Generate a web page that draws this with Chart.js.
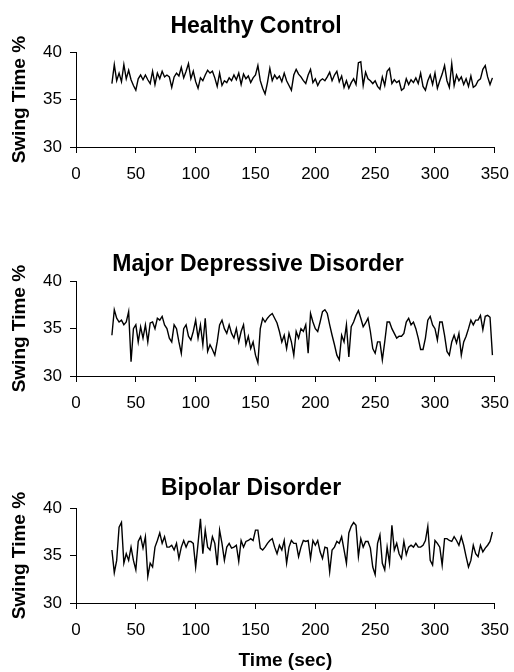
<!DOCTYPE html>
<html>
<head>
<meta charset="utf-8">
<script src="https://cdn.jsdelivr.net/npm/chart.js@4.4.1/dist/chart.umd.min.js"></script>
<style>
  html, body { margin: 0; padding: 0; background: #fff; }
  #page { position: relative; width: 514px; height: 672px; }
  canvas { position: absolute; left: 0; }
</style>
</head>
<body>
<div id="page">
  <canvas id="c-healthy" width="514" height="190" style="top:0px"></canvas>
  <canvas id="c-mdd" width="514" height="190" style="top:229px"></canvas>
  <canvas id="c-bipolar" width="514" height="216" style="top:456px"></canvas>
</div>
<script>
// time axis (sec), one sample every 2 s
const timeSec = [
  30, 32, 34, 36, 38, 40, 42, 44, 46, 48, 50, 52, 54, 56, 58, 60, 62, 64, 66, 68,
  70, 72, 74, 76, 78, 80, 82, 84, 86, 88, 90, 92, 94, 96, 98, 100, 102, 104, 106, 108,
  110, 112, 114, 116, 118, 120, 122, 124, 126, 128, 130, 132, 134, 136, 138, 140, 142, 144, 146, 148,
  150, 152, 154, 156, 158, 160, 162, 164, 166, 168, 170, 172, 174, 176, 178, 180, 182, 184, 186, 188,
  190, 192, 194, 196, 198, 200, 202, 204, 206, 208, 210, 212, 214, 216, 218, 220, 222, 224, 226, 228,
  230, 232, 234, 236, 238, 240, 242, 244, 246, 248, 250, 252, 254, 256, 258, 260, 262, 264, 266, 268,
  270, 272, 274, 276, 278, 280, 282, 284, 286, 288, 290, 292, 294, 296, 298, 300, 302, 304, 306, 308,
  310, 312, 314, 316, 318, 320, 322, 324, 326, 328, 330, 332, 334, 336, 338, 340, 342, 344, 346, 348
];

// swing time % per group
const healthy = [
  36.7, 38.7, 37.0, 37.8, 36.9, 38.7, 37.2, 38.1, 37.1, 36.5,
  36.0, 37.2, 37.6, 37.1, 37.6, 37.1, 36.7, 38.0, 36.6, 37.8,
  37.2, 38.0, 37.4, 37.6, 37.4, 36.3, 37.4, 37.8, 37.5, 38.4,
  37.3, 38.0, 38.8, 37.2, 38.0, 36.9, 36.2, 37.3, 37.0, 37.6,
  38.1, 37.8, 38.0, 37.3, 36.4, 37.8, 36.5, 37.0, 36.8, 37.3,
  37.0, 37.6, 37.1, 37.8, 36.6, 37.7, 37.2, 37.5, 36.8, 37.3,
  37.6, 38.6, 37.0, 36.2, 35.6, 36.8, 38.3, 37.0, 37.6, 37.2,
  37.5, 36.9, 37.8, 37.0, 36.5, 36.0, 37.6, 38.2, 37.7, 37.4,
  37.0, 36.7, 37.6, 38.2, 36.8, 37.2, 36.5, 37.0, 37.2, 37.0,
  37.4, 37.9, 37.0, 37.6, 38.0, 36.9, 37.5, 36.3, 37.0, 36.2,
  36.8, 37.2, 36.6, 38.9, 39.0, 36.5, 37.9, 37.2, 37.0, 36.7,
  37.0, 36.4, 36.1, 37.4, 36.5, 38.0, 38.3, 36.7, 37.1, 36.8,
  37.0, 36.0, 36.2, 37.2, 36.6, 37.1, 36.8, 37.3, 36.7, 37.8,
  36.4, 36.0, 37.0, 37.6, 36.6, 37.8, 36.2, 37.0, 37.7, 38.6,
  37.0, 36.3, 38.8, 36.5, 37.6, 37.0, 37.4, 36.6, 37.2, 36.4,
  37.5, 36.3, 36.5, 37.0, 37.2, 38.2, 38.6, 37.4, 36.6, 37.3
];

const mdd = [
  34.3, 37.0, 36.1, 35.7, 35.9, 35.4, 35.7, 36.8, 31.5, 35.0,
  35.4, 33.6, 35.2, 34.0, 35.4, 33.6, 35.6, 35.7, 35.0, 36.1,
  35.9, 36.3, 35.4, 35.0, 34.0, 33.6, 35.4, 35.0, 33.6, 32.4,
  35.0, 35.4, 34.2, 33.8, 34.7, 35.9, 34.0, 35.4, 33.3, 36.1,
  32.6, 33.3, 32.8, 32.2, 33.6, 35.4, 35.9, 35.0, 34.5, 35.4,
  34.5, 34.0, 35.0, 33.6, 34.7, 35.4, 33.3, 34.2, 32.9, 33.6,
  32.2, 31.4, 35.0, 36.1, 35.7, 36.1, 36.4, 36.6, 36.1, 35.6,
  34.7, 33.6, 34.3, 32.9, 34.5, 33.6, 32.2, 34.7, 34.0, 35.0,
  34.7, 35.4, 32.4, 36.6, 35.7, 35.0, 34.7, 35.7, 36.8, 37.0,
  36.6, 35.4, 34.3, 33.3, 32.2, 31.7, 34.3, 33.6, 35.4, 32.0,
  35.2, 35.7, 36.4, 36.9, 36.1, 35.2, 35.6, 36.1, 34.7, 32.9,
  32.4, 33.6, 33.6, 31.7, 33.6, 35.7, 35.7, 35.0, 34.5, 34.0,
  34.2, 34.2, 34.5, 35.7, 36.1, 35.4, 35.7, 35.0, 34.0, 32.8,
  32.8, 34.0, 35.9, 36.3, 35.4, 35.0, 33.8, 35.7, 35.7, 34.3,
  32.6, 32.2, 33.6, 34.3, 33.5, 34.5, 32.2, 33.6, 34.2, 35.0,
  35.9, 35.4, 35.9, 35.9, 36.4, 34.9, 36.3, 36.4, 36.2, 32.2
];

const bipolar = [
  35.6, 33.2, 34.5, 38.0, 38.5, 34.2, 35.2, 34.5, 35.9, 34.5,
  33.5, 36.5, 37.0, 35.8, 37.0, 32.8, 34.2, 33.8, 35.9, 36.6,
  37.4, 36.3, 37.0, 35.9, 35.9, 36.1, 35.6, 36.3, 34.7, 35.9,
  36.6, 35.9, 36.5, 36.5, 36.3, 33.8, 36.3, 38.9, 35.2, 37.7,
  35.9, 35.6, 37.0, 36.3, 34.0, 37.7, 36.3, 34.5, 35.9, 36.3,
  35.8, 35.9, 36.1, 34.4, 36.6, 35.9, 36.5, 36.6, 36.8, 36.6,
  37.7, 37.7, 35.8, 35.6, 35.9, 36.3, 36.6, 36.8, 35.9, 35.2,
  36.1, 35.6, 36.6, 34.2, 35.9, 36.6, 36.3, 36.3, 34.9, 35.9,
  36.6, 36.5, 36.6, 34.7, 36.6, 36.1, 36.6, 35.4, 34.7, 35.9,
  35.8, 33.3, 35.6, 35.9, 36.5, 36.3, 37.0, 35.6, 34.2, 37.4,
  38.1, 38.5, 38.2, 34.9, 36.8, 35.9, 36.5, 36.5, 35.8, 33.8,
  33.0, 36.3, 37.2, 34.2, 33.5, 35.9, 34.2, 38.2, 35.6, 36.3,
  35.2, 34.7, 36.5, 35.1, 35.9, 36.1, 35.9, 36.3, 35.9, 35.9,
  36.1, 36.6, 38.1, 34.5, 34.0, 36.6, 36.3, 35.9, 34.0, 36.8,
  36.8, 36.6, 36.5, 37.0, 36.6, 36.1, 37.0, 36.1, 34.9, 33.8,
  34.5, 36.1, 35.2, 34.9, 36.1, 35.4, 35.8, 36.1, 36.5, 37.5
];

const FONT = "'Liberation Sans', Arial, sans-serif";
Chart.defaults.font.family = FONT;
Chart.defaults.color = "#000";

// plot area spans x 76..495 on every panel
const AXIS_LEFT = 76;
const RIGHT_PAD = 19;

function buildPanel(canvasId, titleText, values, padLeft, titlePad, xTitle, xHeight) {
  const ctx = document.getElementById(canvasId).getContext("2d");
  const points = timeSec.map((t, i) => ({ x: t, y: values[i] }));

  return new Chart(ctx, {
    type: "line",
    data: {
      datasets: [{
        data: points,
        borderColor: "#000",
        borderWidth: 1.4,
        pointRadius: 0,
        fill: false,
        tension: 0,
      }],
    },
    options: {
      responsive: false,
      animation: false,
      layout: { padding: { left: padLeft, right: RIGHT_PAD, top: 0, bottom: 0 } },
      plugins: {
        legend: { display: false },
        tooltip: { enabled: false },
        title: {
          display: true,
          text: titleText,
          color: "#000",
          font: { size: 23, weight: "bold", lineHeight: 1.2 },
          padding: titlePad,
        },
      },
      scales: {
        x: {
          type: "linear",
          min: 0,
          max: 350,
          ticks: {
            stepSize: 50, autoSkip: false, maxRotation: 0, padding: 5,
            font: { size: 17, lineHeight: 1.92 },
          },
          grid: { drawOnChartArea: false, drawTicks: true, tickLength: 6, color: "#000" },
          border: { display: true, color: "#000", width: 1 },
          title: {
            display: !!xTitle,
            text: xTitle || "",
            font: { size: 19, weight: "bold", lineHeight: 1.2 },
            padding: { top: 0, bottom: 0 },
          },
          afterFit: (scale) => { scale.height = xHeight; },
        },
        y: {
          min: 30,
          max: 40,
          ticks: { stepSize: 5, padding: 8, font: { size: 17 } },
          grid: { drawOnChartArea: false, drawTicks: true, tickLength: 6, color: "#000" },
          border: { display: true, color: "#000", width: 1 },
          title: {
            display: true,
            text: "Swing Time %",
            font: { size: 19, weight: "bold", lineHeight: 1.2 },
            // keeps the rotated title centred near x = 20 whatever the left padding
            padding: { top: 8.6 - padLeft, bottom: 0 },
          },
          afterFit: (scale) => { scale.width = AXIS_LEFT - padLeft; },
        },
      },
    },
  });
}

buildPanel("c-healthy", "Healthy Control", healthy, 17, { top: 13.2, bottom: 11.5 }, null, 43);
buildPanel("c-mdd", "Major Depressive Disorder", mdd, 21, { top: 22.2, bottom: 2.5 }, null, 43);
buildPanel("c-bipolar", "Bipolar Disorder", bipolar, 7, { top: 19.2, bottom: 5.5 }, "Time (sec)", 69);
</script>
</body>
</html>
